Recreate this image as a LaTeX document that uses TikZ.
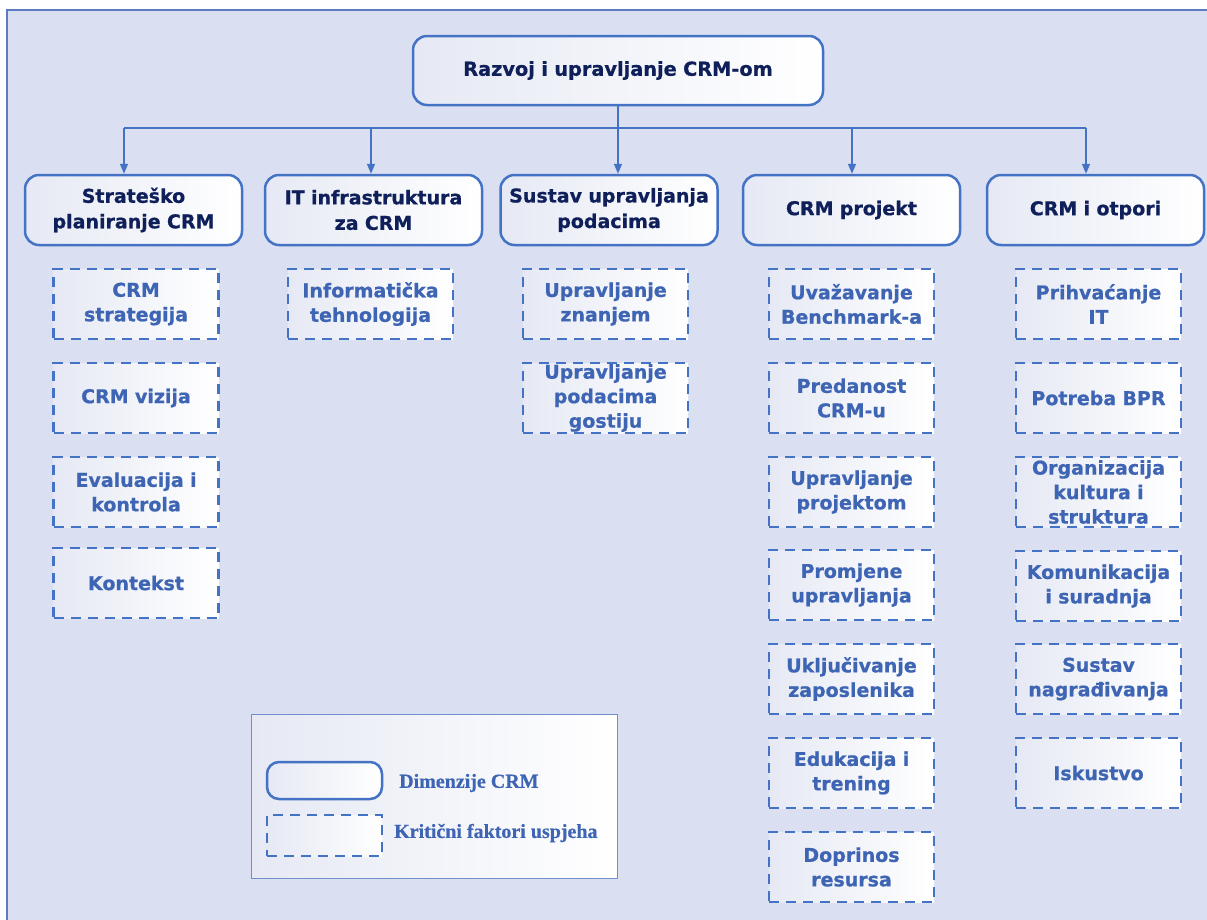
\documentclass[tikz,border=0pt]{standalone}
\usepackage{fontspec}
\setmainfont{DejaVu Sans}[BoldFeatures={FakeBold=0.7}]
\newfontfamily\legfont{Liberation Serif}[BoldFeatures={FakeBold=0.5}]
\usetikzlibrary{arrows.meta}
\definecolor{bg}{HTML}{DAE0F2}
\definecolor{frame}{HTML}{5B7CC0}
\definecolor{bline}{HTML}{4472C4}
\definecolor{navy}{HTML}{0E1F5A}
\definecolor{ftext}{HTML}{3E65B4}
\definecolor{shd}{HTML}{E6E9F4}
\definecolor{legline}{HTML}{7090CC}
\begin{document}
\begin{tikzpicture}[x=1pt,y=-1pt,
 dimbox/.style={draw=bline, line width=2.5pt, rounded corners=14pt, minimum width=217pt, minimum height=70pt,
   left color=shd, right color=white, text=navy, font=\bfseries\fontsize{19}{25.5}\selectfont,
   align=center, inner sep=0pt, text width=214pt},
 facbox/.style={draw=bline, line width=2.5pt, dash pattern=on 10pt off 7pt, minimum width=165pt, minimum height=70pt,
   left color=shd, right color=white, text=ftext, font=\bfseries\fontsize{19}{24.5}\selectfont,
   align=center, inner sep=0pt, text width=163pt},
 conn/.style={draw=bline, line width=1.6pt},
 arr/.style={conn, -{Triangle[length=10pt,width=8pt]}},
 legtext/.style={anchor=west, text=ftext, font=\legfont\bfseries\fontsize{20}{24}\selectfont, inner sep=0pt}]
\useasboundingbox (0,0) rectangle (1207,919);
\clip (0,0) rectangle (1207,919);
\draw[fill=bg, draw=frame, line width=1.5pt] (7,10) rectangle (1230,940);

% top
\node[dimbox, minimum width=410pt, minimum height=69pt, text width=400pt, font=\bfseries\fontsize{19.3}{25}\selectfont] (top) at (618,70.5) {Razvoj i upravljanje CRM-om};

% dimensions
\node[dimbox] (d1) at (133.5,210) {Strateško\\planiranje CRM};
\node[dimbox] (d2) at (373.5,210) {IT infrastruktura\\za CRM};
\node[dimbox] (d3) at (609,210) {Sustav upravljanja\\podacima};
\node[dimbox] (d4) at (851.5,210) {CRM projekt};
\node[dimbox] (d5) at (1095.5,210) {CRM i otpori};

% connectors
\coordinate (j1) at (124,128);
\coordinate (j2) at (371,128);
\coordinate (j3) at (618,128);
\coordinate (j4) at (852,128);
\coordinate (j5) at (1086,128);
\draw[conn] (j1) -- (j5);
\draw[conn] (top.south) -- (j3);
\draw[arr] (j1) -- (j1 |- d1.north);
\draw[arr] (j2) -- (j2 |- d2.north);
\draw[arr] (j3) -- (j3 |- d3.north);
\draw[arr] (j4) -- (j4 |- d4.north);
\draw[arr] (j5) -- (j5 |- d5.north);

% column 1
\node[facbox] (f11) at (136,304) {CRM\\strategija};
\node[facbox] (f12) at (136,398) {CRM vizija};
\node[facbox] (f13) at (136,492) {Evaluacija i\\kontrola};
\node[facbox] (f14) at (136,583) {Kontekst};
% column 2
\node[facbox] (f21) at (370.5,304) {Informatička\\tehnologija};
% column 3
\node[facbox] (f31) at (605.5,304) {Upravljanje\\znanjem};
\node[facbox] (f32) at (605.5,398) {Upravljanje\\podacima\\gostiju};
% column 4
\node[facbox] (f41) at (851.5,304) {Uvažavanje\\Benchmark-a};
\node[facbox] (f42) at (851.5,398) {Predanost\\CRM-u};
\node[facbox] (f43) at (851.5,492) {Upravljanje\\projektom};
\node[facbox] (f44) at (851.5,585) {Promjene\\upravljanja};
\node[facbox] (f45) at (851.5,679) {Uključivanje\\zaposlenika};
\node[facbox] (f46) at (851.5,773) {Edukacija i\\trening};
\node[facbox] (f47) at (851.5,867) {Doprinos\\resursa};
% column 5
\node[facbox] (f51) at (1098.5,304) {Prihvaćanje\\IT};
\node[facbox] (f52) at (1098.5,398) {Potreba BPR};
\node[facbox] (f53) at (1098.5,492) {Organizacija\\kultura i\\struktura};
\node[facbox] (f54) at (1098.5,586) {Komunikacija\\i suradnja};
\node[facbox] (f55) at (1098.5,679) {Sustav\\nagrađivanja};
\node[facbox] (f56) at (1098.5,773) {Iskustvo};

% legend
\node[draw=legline, line width=1pt, left color=shd, right color=white, minimum width=366pt, minimum height=164pt, inner sep=0pt] (leg) at (434,796) {};
\node[dimbox, minimum width=115pt, minimum height=37pt, text width=110pt, rounded corners=12pt] (l1) at (324.5,780.5) {};
\node[facbox, minimum width=115pt, minimum height=41pt, text width=110pt] (l2) at (324.5,835.5) {};
\node[legtext] (t1) at (399,783) {Dimenzije CRM};
\node[legtext] (t2) at (394,833) {Kritični faktori uspjeha};
\end{tikzpicture}
\end{document}
